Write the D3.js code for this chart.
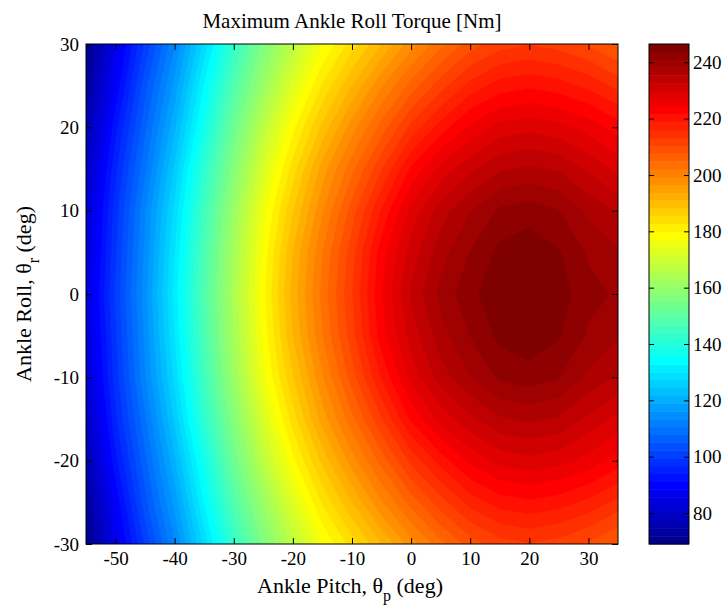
<!DOCTYPE html>
<html>
<head>
<meta charset="utf-8">
<script src="https://cdn.jsdelivr.net/npm/d3@7"></script>
<style>
  body { margin: 0; background: #fff; }
  text { font-family: "Liberation Serif", "Times New Roman", serif; fill: #000; }
</style>
</head>
<body>
<svg id="chart" width="725" height="611"></svg>
<script>
// grid: columns = ankle pitch, rows = ankle roll (top row first)
var pitch = [-55, -50, -45, -40, -35, -30, -25, -20, -15, -10, -5, 0, 5, 10, 15, 20, 25, 30, 35];
var roll = [30, 25, 20, 15, 10, 5, 0, -5, -10, -15, -20, -25, -30];

var torque = [
  [69, 86, 100, 113, 128, 143, 156, 167, 177, 184, 191, 198, 204, 209, 212, 213, 212, 210, 207],
  [72, 89, 104, 117, 133, 148, 161, 173, 183, 191, 199, 206, 212, 217, 220, 221, 220, 218, 215],
  [76, 93, 107, 121, 137, 153, 167, 179, 189, 198, 206, 214, 220, 225, 228, 229, 228, 226, 223],
  [79, 96, 110, 125, 142, 157, 172, 184, 195, 204, 213, 222, 228, 232, 235, 236, 235, 232, 229],
  [82, 98, 113, 128, 145, 161, 176, 188, 199, 209, 219, 228, 234, 238, 241.5, 242.5, 241, 237.5, 235],
  [83, 99, 114, 130, 147, 163, 178, 191, 202, 212, 223, 231, 237, 241, 244.5, 245.5, 244, 240.5, 238.5],
  [84, 100, 115, 131, 148, 164, 179, 192, 203, 213, 224, 233, 239, 243, 245.5, 246.5, 245, 242, 240.5],
  [83, 99, 114, 130, 147, 163, 178, 191, 202, 212, 223, 231, 237, 241, 244.5, 245.5, 244, 240.5, 238.5],
  [82, 98, 113, 128, 145, 161, 176, 188, 199, 209, 219, 228, 234, 238, 241.5, 242.5, 241, 237.5, 235],
  [79, 96, 110, 125, 142, 157, 172, 184, 195, 204, 213, 222, 228, 232, 235, 236, 235, 232, 229],
  [76, 93, 107, 121, 137, 153, 167, 179, 189, 198, 206, 214, 220, 225, 228, 229, 228, 226, 223],
  [72, 89, 104, 117, 133, 148, 161, 173, 183, 191, 199, 206, 212, 217, 220, 221, 220, 218, 215],
  [69, 86, 100, 113, 128, 143, 156, 167, 177, 184, 191, 198, 204, 209, 212, 213, 212, 210, 207]
];

var xTicks = [-50, -40, -30, -20, -10, 0, 10, 20, 30];
var yTicks = [-30, -20, -10, 0, 10, 20, 30];
var cTicks = [80, 100, 120, 140, 160, 180, 200, 220, 240];

var svg = d3.select("#chart");

var plot = { left: 86, right: 618, top: 44, bottom: 544 };
var bar = { left: 649, right: 689 };

var x = d3.scaleLinear().domain([-55, 35]).range([plot.left, plot.right]);
var y = d3.scaleLinear().domain([-30, 30]).range([plot.bottom, plot.top]);

// matlab jet(64)
function jet(m) {
  var n = Math.ceil(m / 4), u = [], i;
  for (i = 1; i <= n; i++) u.push(i / n);
  for (i = 1; i < n; i++) u.push(1);
  for (i = n; i >= 1; i--) u.push(i / n);
  var off = Math.ceil(n / 2) - (m % 4 == 1 ? 1 : 0);
  var cols = d3.range(m).map(function() { return [0, 0, 0]; });
  u.forEach(function(v, k) {
    var g = off + k + 1, r = g + n, b = g - n;
    if (r >= 1 && r <= m) cols[r - 1][0] = v;
    if (g >= 1 && g <= m) cols[g - 1][1] = v;
    if (b >= 1 && b <= m) cols[b - 1][2] = v;
  });
  return cols.map(function(c) { return d3.rgb(c[0] * 255, c[1] * 255, c[2] * 255).toString(); });
}
var palette = jet(64);

var flat = d3.merge(torque);
var cRange = d3.extent(flat);
var color = d3.scaleQuantize().domain(cRange).range(palette);
var thresholds = color.thresholds();

// heat map as stacked filled contours
var gx = d3.scaleLinear().domain([0.5, pitch.length - 0.5]).range([x(pitch[0]), x(pitch[pitch.length - 1])]);
var gy = d3.scaleLinear().domain([0.5, roll.length - 0.5]).range([y(roll[0]), y(roll[roll.length - 1])]);
var path = d3.geoPath(d3.geoTransform({
  point: function(px, py) { this.stream.point(gx(px), gy(py)); }
}));

var contours = d3.contours().size([pitch.length, roll.length]).thresholds(thresholds)(flat);

svg.append("defs").append("clipPath").attr("id", "clip")
  .append("rect")
  .attr("x", plot.left).attr("y", plot.top)
  .attr("width", plot.right - plot.left).attr("height", plot.bottom - plot.top);

var heat = svg.append("g").attr("clip-path", "url(#clip)");
heat.append("rect")
  .attr("x", plot.left).attr("y", plot.top)
  .attr("width", plot.right - plot.left).attr("height", plot.bottom - plot.top)
  .attr("fill", palette[0]);
heat.selectAll("path.band").data(contours).enter().append("path")
  .attr("class", "band")
  .attr("d", path)
  .attr("fill", function(d) { return color(d.value + 1e-6); })
  .attr("stroke", function(d) { return color(d.value + 1e-6); })
  .attr("stroke-width", 0.6);

// axes, matlab style ticks pointing in
function fmt(d) { return String(d); }
var gb = svg.append("g").attr("transform", "translate(0," + plot.bottom + ")")
  .call(d3.axisBottom(x).tickValues(xTicks).tickSize(-6).tickPadding(8).tickFormat(fmt));
var gt = svg.append("g").attr("transform", "translate(0," + plot.top + ")")
  .call(d3.axisTop(x).tickValues(xTicks).tickSize(-6).tickFormat(""));
var gl = svg.append("g").attr("transform", "translate(" + plot.left + ",0)")
  .call(d3.axisLeft(y).tickValues(yTicks).tickSize(-6).tickPadding(7).tickFormat(fmt));
var gr = svg.append("g").attr("transform", "translate(" + plot.right + ",0)")
  .call(d3.axisRight(y).tickValues(yTicks).tickSize(-6).tickFormat(""));

[gb, gt, gl, gr].forEach(function(g) {
  g.select(".domain").remove();
  g.selectAll("line").attr("stroke", "#000");
  g.selectAll("text").style("font-size", "19px").attr("fill", "#000");
});

svg.append("rect")
  .attr("x", plot.left).attr("y", plot.top)
  .attr("width", plot.right - plot.left).attr("height", plot.bottom - plot.top)
  .attr("fill", "none").attr("stroke", "#000").attr("stroke-width", 1);

// colorbar
var cy = d3.scaleLinear().domain(cRange).range([plot.bottom, plot.top]);
svg.append("g").selectAll("rect").data(palette).enter().append("rect")
  .attr("x", bar.left)
  .attr("width", bar.right - bar.left)
  .attr("y", function(d) { return cy(color.invertExtent(d)[1]); })
  .attr("height", function(d) {
    var e = color.invertExtent(d);
    return cy(e[0]) - cy(e[1]) + 0.5;
  })
  .attr("fill", function(d) { return d; });

var cr = svg.append("g").attr("transform", "translate(" + bar.right + ",0)")
  .call(d3.axisRight(cy).tickValues(cTicks).tickSize(-5).tickPadding(4).tickFormat(fmt));
var cl = svg.append("g").attr("transform", "translate(" + bar.left + ",0)")
  .call(d3.axisLeft(cy).tickValues(cTicks).tickSize(-5).tickFormat(""));
[cr, cl].forEach(function(g) {
  g.select(".domain").remove();
  g.selectAll("line").attr("stroke", "#000");
  g.selectAll("text").style("font-size", "19px").attr("fill", "#000");
});
svg.append("rect")
  .attr("x", bar.left).attr("y", plot.top)
  .attr("width", bar.right - bar.left).attr("height", plot.bottom - plot.top)
  .attr("fill", "none").attr("stroke", "#000").attr("stroke-width", 1);

// titles
svg.append("text")
  .attr("x", (plot.left + plot.right) / 2).attr("y", 28)
  .attr("text-anchor", "middle").style("font-size", "21px")
  .text("Maximum Ankle Roll Torque [Nm]");

var xl = svg.append("text")
  .attr("x", (plot.left + plot.right) / 2 - 2).attr("y", 593)
  .attr("text-anchor", "middle").style("font-size", "22px");
xl.append("tspan").text("Ankle Pitch, \u03b8");
xl.append("tspan").attr("dy", 8).style("font-size", "16px").text("p");
xl.append("tspan").attr("dy", -8).text(" (deg)");

var yl = svg.append("text")
  .attr("transform", "translate(31," + (plot.top + plot.bottom) / 2 + ") rotate(-90)")
  .attr("text-anchor", "middle").style("font-size", "22px");
yl.append("tspan").text("Ankle Roll, \u03b8");
yl.append("tspan").attr("dy", 8).style("font-size", "16px").text("r");
yl.append("tspan").attr("dy", -8).text(" (deg)");
</script>
</body>
</html>
